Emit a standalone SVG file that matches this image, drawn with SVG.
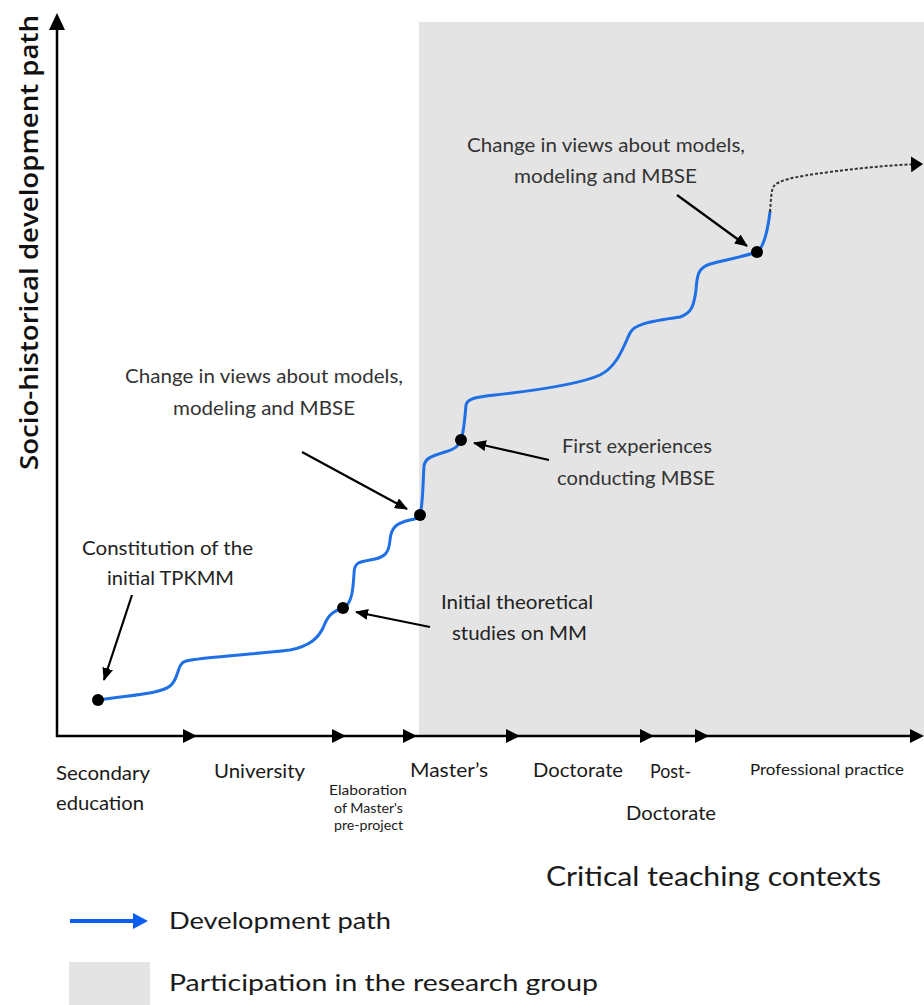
<svg xmlns="http://www.w3.org/2000/svg" width="924" height="1005" viewBox="0 0 924 1005">
<style>
.ann{font-family:Lato,"Open Sans","Liberation Sans",sans-serif;font-size:19px;fill:#333}
.ax{font-family:Lato,"Liberation Sans",sans-serif;font-size:20px;fill:#1a1a1a}
.axs{font-family:Lato,"Liberation Sans",sans-serif;font-size:13.5px;fill:#1a1a1a}
.leg{font-family:Lato,"Liberation Sans",sans-serif;font-size:24px;fill:#1a1a1a}
.pt{stroke:#000;stroke-width:2.2;fill:none;marker-end:url(#ah)}
.dot{fill:#000}
</style>
<defs>
<marker id="ah" markerUnits="userSpaceOnUse" markerWidth="13" markerHeight="11" refX="12" refY="5.5" orient="auto">
<path d="M0,0 L13,5.5 L0,11 Z" fill="#000"/>
</marker>
<marker id="ah2" markerUnits="userSpaceOnUse" markerWidth="12" markerHeight="16" refX="11" refY="8" orient="auto">
<path d="M0,0 L12,8 L0,16 Z" fill="#000"/>
</marker>
<path id="tri" d="M-14,-7 L0,0 L-14,7 Z" fill="#000"/>
</defs>

<rect id="research-group" x="419" y="22" width="505" height="714" fill="#e4e4e4"/>

<g id="axes">
<line x1="57" y1="737" x2="57" y2="26" stroke="#000" stroke-width="2.5"/>
<path d="M57,13 L49,30 L65,30 Z" fill="#000"/>
<line x1="56" y1="736" x2="918" y2="736" stroke="#000" stroke-width="2.5"/>
<use href="#tri" x="197" y="736"/>
<use href="#tri" x="346" y="736"/>
<use href="#tri" x="417" y="736"/>
<use href="#tri" x="520" y="736"/>
<use href="#tri" x="654" y="736"/>
<use href="#tri" x="709" y="736"/>
<use href="#tri" x="924" y="736"/>
</g>

<text id="y-label" transform="translate(38,470) rotate(-90)" font-family="'Open Sans',Lato,sans-serif" font-size="26" font-weight="600" fill="#111" textLength="455" lengthAdjust="spacingAndGlyphs">Socio-historical development path</text>

<g id="x-labels">
<text class="ax" x="56" y="780" textLength="94" lengthAdjust="spacingAndGlyphs">Secondary</text>
<text class="ax" x="56" y="810" textLength="88" lengthAdjust="spacingAndGlyphs">education</text>
<text class="ax" x="214" y="778" textLength="91" lengthAdjust="spacingAndGlyphs">University</text>
<text class="axs" x="329" y="795" textLength="78" lengthAdjust="spacingAndGlyphs">Elaboration</text>
<text class="axs" x="334" y="813" textLength="69" lengthAdjust="spacingAndGlyphs">of Master's</text>
<text class="axs" x="334" y="830" textLength="69" lengthAdjust="spacingAndGlyphs">pre-project</text>
<text class="ax" x="410" y="777" textLength="78" lengthAdjust="spacingAndGlyphs">Master’s</text>
<text class="ax" x="533" y="777" textLength="90" lengthAdjust="spacingAndGlyphs">Doctorate</text>
<text class="ax" x="650" y="778" textLength="41" lengthAdjust="spacingAndGlyphs">Post-</text>
<text class="ax" x="626" y="820" textLength="90" lengthAdjust="spacingAndGlyphs">Doctorate</text>
<text class="ax" x="750" y="775" style="font-size:16px" textLength="154" lengthAdjust="spacingAndGlyphs">Professional practice</text>
<text class="leg" x="546" y="886" style="font-size:26px" textLength="335" lengthAdjust="spacingAndGlyphs">Critical teaching contexts</text>
</g>

<g id="connectors">
<path id="development-path" d="M98,700 C130,695 160,694 170,686 C180,678 176,664 186,661 C200,657 260,654 290,650 C310,646 318,638 323,628 C327,618 330,612 343,608 C352,604 353,590 354,574 C354,563 358,562 370,560 C385,558 389,553 390,540 C391,528 396,523 410,520 C416,519 419,517 420,515 C423,505 423,480 424,466 C425,458 432,456 445,452 C455,449 459,446 461,440 C464,432 465,415 466,405 C467,399 475,397 495,395 C540,390 580,384 600,375 C618,366 624,345 630,333 C634,325 645,322 680,317 C692,313 694,305 696,290 C697,275 698,268 710,264 C725,260 750,255 757,252 C763,248 767,236 770,212" fill="none" stroke="#1f6fe5" stroke-width="3" stroke-linecap="round"/>
<path id="future-path" d="M770,212 C771,200 771,190 774,186 C778,181 790,177 830,172 C860,168 890,165 922,164" fill="none" stroke="#333" stroke-width="2" stroke-dasharray="3,2" marker-end="url(#ah2)"/>
<line class="pt" x1="132" y1="595" x2="104" y2="680"/>
<line class="pt" x1="430" y1="627" x2="356" y2="612"/>
<line class="pt" x1="302" y1="452" x2="407" y2="509"/>
<line class="pt" x1="549" y1="460" x2="474" y2="443"/>
<line class="pt" x1="677" y1="195" x2="747" y2="246"/>
</g>

<g id="node-tpkmm">
<circle class="dot" cx="98" cy="700" r="6"/>
<text class="ann" x="82" y="555" textLength="171" lengthAdjust="spacingAndGlyphs" style="fill:#222">Constitution of the</text>
<text class="ann" x="107" y="585" textLength="127" lengthAdjust="spacingAndGlyphs" style="fill:#222">initial TPKMM</text>
</g>
<g id="node-theoretical">
<circle class="dot" cx="343" cy="608" r="6"/>
<text class="ann" x="441" y="609" textLength="152" lengthAdjust="spacingAndGlyphs" style="fill:#222">Initial theoretical</text>
<text class="ann" x="452" y="640" textLength="135" lengthAdjust="spacingAndGlyphs" style="fill:#222">studies on MM</text>
</g>
<g id="node-change-1">
<circle class="dot" cx="420" cy="515" r="6"/>
<text class="ann" x="125" y="383" textLength="278" lengthAdjust="spacingAndGlyphs">Change in views about models,</text>
<text class="ann" x="173" y="415" textLength="182" lengthAdjust="spacingAndGlyphs">modeling and MBSE</text>
</g>
<g id="node-first-exp">
<circle class="dot" cx="461" cy="440" r="6"/>
<text class="ann" x="562" y="453" textLength="150" lengthAdjust="spacingAndGlyphs">First experiences</text>
<text class="ann" x="557" y="485" textLength="158" lengthAdjust="spacingAndGlyphs">conducting MBSE</text>
</g>
<g id="node-change-2">
<circle class="dot" cx="757" cy="252" r="6"/>
<text class="ann" x="467" y="152" textLength="278" lengthAdjust="spacingAndGlyphs">Change in views about models,</text>
<text class="ann" x="514" y="183" textLength="183" lengthAdjust="spacingAndGlyphs">modeling and MBSE</text>
</g>

<g id="legend">
<line x1="70" y1="921" x2="136" y2="921" stroke="#0b5ef0" stroke-width="4"/>
<path d="M133,913 L148,921 L133,929 Z" fill="#0b5ef0"/>
<text class="leg" x="169" y="929" textLength="222" lengthAdjust="spacingAndGlyphs">Development path</text>
<rect x="69" y="962" width="81" height="43" fill="#e4e4e4"/>
<text class="leg" x="169" y="991" textLength="429" lengthAdjust="spacingAndGlyphs">Participation in the research group</text>
</g>
</svg>
